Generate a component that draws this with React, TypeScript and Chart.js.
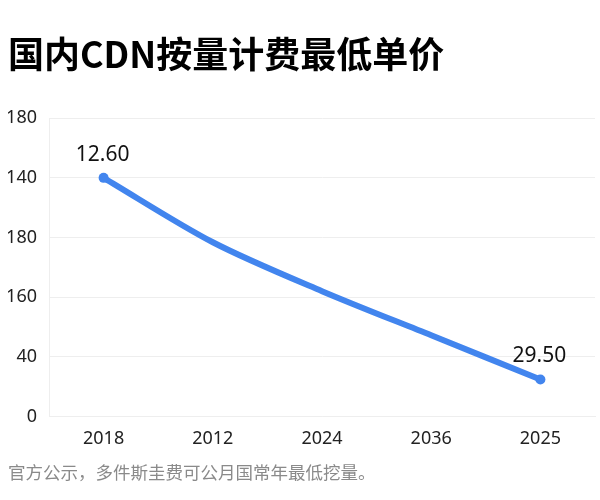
import React, { useEffect, useRef } from "react";
import { Chart, registerables } from "chart.js";

Chart.register(...registerables);

const TITLE = "国内CDN按量计费最低单价";
const FOOTNOTE = "官方公示，多件斯圭费可公月国常年最低挖量。";
const CATEGORIES = ["2018", "2012", "2024", "2036", "2025"];
const VALUES = [200, 146, 105, 68, 31];
const POINT_LABELS = ["12.60", "", "", "", "29.50"];
const Y_TICK_LABELS = ["0", "40", "160", "180", "140", "180"];

const pointLabelPlugin = {
  id: "pointLabels",
  afterDatasetsDraw(chart: any) {
    const ctx = chart.ctx;
    const meta = chart.getDatasetMeta(0);
    ctx.save();
    ctx.font = '21px "Noto Sans", "DejaVu Sans", sans-serif';
    ctx.fillStyle = "#111111";
    ctx.textAlign = "center";
    ctx.textBaseline = "middle";
    meta.data.forEach((pt: any, i: number) => {
      const txt = POINT_LABELS[i];
      if (!txt) return;
      ctx.fillText(txt, pt.x - 1, pt.y - 23);
    });
    ctx.restore();
  },
};

export default function App() {
  const ref = useRef<HTMLCanvasElement | null>(null);
  useEffect(() => {
    document.body.style.margin = "0";
    const chart = new Chart(ref.current as HTMLCanvasElement, {
      type: "line",
      data: {
        labels: CATEGORIES,
        datasets: [
          {
            data: VALUES,
            borderColor: "#4285EE",
            backgroundColor: "#4285EE",
            borderWidth: 6,
            tension: 0.3,
            pointRadius: POINT_LABELS.map((l) => (l ? 5 : 0)),
            pointHoverRadius: 0,
            pointBackgroundColor: "#4285EE",
            pointBorderWidth: 0,
          },
        ],
      },
      options: {
        animation: false,
        responsive: false,
        devicePixelRatio: 1,
        layout: { padding: { left: 8, right: 0, top: 0, bottom: 17 } },
        plugins: {
          legend: { display: false },
          tooltip: { enabled: false },
          title: {
            display: true,
            text: TITLE,
            align: "start",
            color: "#000000",
            font: { family: '"Noto Sans CJK SC", "Noto Sans", sans-serif', size: 36, weight: "bold" },
            padding: { top: 33, bottom: 42 },
          },
          subtitle: {
            display: true,
            text: FOOTNOTE,
            position: "bottom",
            align: "start",
            color: "#8a8a8a",
            font: { family: '"Noto Sans CJK SC", "Noto Sans", sans-serif', size: 17.5 },
            padding: { top: 0, bottom: 0 },
          },
        },
        scales: {
          x: {
            offset: true,
            grid: { display: false, drawTicks: false },
            border: { display: true, color: "#eeeeee" },
            ticks: {
              color: "#222222",
              padding: 12,
              font: { family: '"Noto Sans", "DejaVu Sans", sans-serif', size: 18 },
            },
          },
          y: {
            min: 0,
            max: 250,
            afterFit: (axis: any) => {
              axis.width = 41;
            },
            grid: { color: "#eeeeee", drawTicks: false },
            border: { display: true, color: "#eeeeee" },
            ticks: {
              stepSize: 50,
              color: "#222222",
              padding: 12,
              font: { family: '"Noto Sans", "DejaVu Sans", sans-serif', size: 18 },
              callback: (_v: any, i: number) => Y_TICK_LABELS[i],
            },
          },
        },
      },
      plugins: [pointLabelPlugin],
    });
    return () => chart.destroy();
  }, []);
  return (
    <div style={{ width: 600, height: 500, background: "#fff" }}>
      <canvas ref={ref} width={600} height={500} />
    </div>
  );
}
